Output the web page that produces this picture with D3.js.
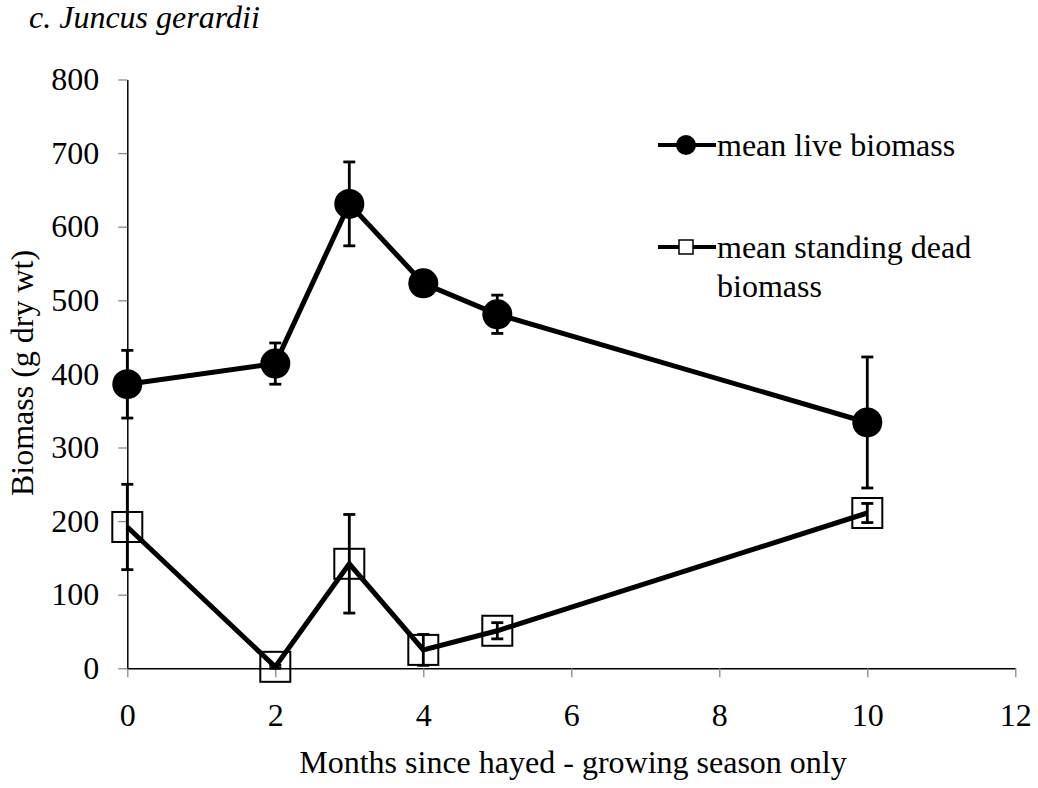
<!DOCTYPE html>
<html>
<head>
<meta charset="utf-8">
<script src="https://cdn.jsdelivr.net/npm/d3@7"></script>
<style>
  body { margin: 0; background: #fff; }
  text { font-family: "Liberation Serif", "Times New Roman", serif; fill: #000; }
</style>
</head>
<body>
<div id="chart"></div>
<script>
// data
var months = [0, 2, 3, 4, 5, 10];
var liveMean = [386, 414, 631, 523, 481, 334];
var liveErr = [46, 28, 57, 8, 26, 89];
var deadMean = [192, 2, 142, 25, 51, 211];
var deadErr = [58, 2, 67, 21, 11, 13];
var xTicks = [0, 2, 4, 6, 8, 10, 12];
var yTicks = [0, 100, 200, 300, 400, 500, 600, 700, 800];

var svgWidth = 1038, svgHeight = 788;
var margin = { top: 79.5, left: 127.3 };
var width = 888, height = 588.8;

var svg = d3.select("#chart").append("svg")
    .attr("width", svgWidth)
    .attr("height", svgHeight);

var chartGroup = svg.append("g")
    .attr("transform", `translate(${margin.left}, ${margin.top})`);

var xScale = d3.scaleLinear().domain([0, 12]).range([0, width]);
var yScale = d3.scaleLinear().domain([0, 800]).range([height, 0]);

// axes
var xAxis = chartGroup.append("g")
    .attr("transform", `translate(0, ${height})`)
    .call(d3.axisBottom(xScale).tickValues(xTicks).tickSizeInner(9).tickSizeOuter(0).tickPadding(26));
var yAxis = chartGroup.append("g")
    .call(d3.axisLeft(yScale).tickValues(yTicks).tickSizeInner(9).tickSizeOuter(0).tickPadding(19));

[xAxis, yAxis].forEach(function (ax) {
    ax.select(".domain").attr("stroke", "#000").attr("stroke-width", 1.5);
    ax.selectAll(".tick line").attr("stroke", "#888").attr("stroke-width", 1.3);
    ax.selectAll(".tick text").style("font-size", "32px").attr("fill", "#000");
});

var liveData = months.map((m, i) => ({ x: m, y: liveMean[i], e: liveErr[i] }));
var deadData = months.map((m, i) => ({ x: m, y: deadMean[i], e: deadErr[i] }));

var line = d3.line().x(d => xScale(d.x)).y(d => yScale(d.y));

// error bars with caps
function drawErrors(data) {
    var g = chartGroup.append("g").attr("stroke", "#000").attr("stroke-width", 2.8);
    data.forEach(function (d) {
        var cx = xScale(d.x), y1 = yScale(d.y + d.e), y2 = yScale(Math.max(0, d.y - d.e));
        g.append("line").attr("x1", cx).attr("x2", cx).attr("y1", y1).attr("y2", y2);
        g.append("line").attr("x1", cx - 6).attr("x2", cx + 6).attr("y1", y1).attr("y2", y1);
        g.append("line").attr("x1", cx - 6).attr("x2", cx + 6).attr("y1", y2).attr("y2", y2);
    });
}

// live biomass
chartGroup.append("path").datum(liveData)
    .attr("d", line).attr("fill", "none").attr("stroke", "#000").attr("stroke-width", 5);
chartGroup.append("g").selectAll("circle").data(liveData).enter().append("circle")
    .attr("cx", d => xScale(d.x)).attr("cy", d => yScale(d.y)).attr("r", 15).attr("fill", "#000");
drawErrors(liveData);

// standing dead biomass
chartGroup.append("path").datum(deadData)
    .attr("d", line).attr("fill", "none").attr("stroke", "#000").attr("stroke-width", 5);
chartGroup.append("g").selectAll("rect").data(deadData).enter().append("rect")
    .attr("x", d => xScale(d.x) - 15).attr("y", d => yScale(d.y) - 15)
    .attr("width", 30).attr("height", 30)
    .attr("fill", "none").attr("stroke", "#000").attr("stroke-width", 2);
drawErrors(deadData);

// legend
var legend = svg.append("g");
legend.append("line").attr("x1", 658).attr("x2", 716).attr("y1", 145).attr("y2", 145)
    .attr("stroke", "#000").attr("stroke-width", 4);
legend.append("circle").attr("cx", 686).attr("cy", 145).attr("r", 10).attr("fill", "#000");
legend.append("text").attr("x", 717).attr("y", 156).style("font-size", "32px").text("mean live biomass");

legend.append("line").attr("x1", 658).attr("x2", 716).attr("y1", 247).attr("y2", 247)
    .attr("stroke", "#000").attr("stroke-width", 4);
legend.append("rect").attr("x", 679).attr("y", 240).attr("width", 14).attr("height", 14)
    .attr("fill", "#fff").attr("stroke", "#000").attr("stroke-width", 1.5);
legend.append("text").attr("x", 717).attr("y", 258).style("font-size", "32px").text("mean standing dead");
legend.append("text").attr("x", 717).attr("y", 297).style("font-size", "32px").text("biomass");

// titles
svg.append("text").attr("x", 29).attr("y", 28)
    .style("font-size", "32px").style("font-style", "italic")
    .text("c. Juncus gerardii");

svg.append("text")
    .attr("transform", "translate(573, 773)")
    .attr("text-anchor", "middle").style("font-size", "32px")
    .text("Months since hayed - growing season only");

svg.append("text")
    .attr("transform", "translate(33, 373) rotate(-90)")
    .attr("text-anchor", "middle").style("font-size", "32px")
    .text("Biomass (g dry wt)");
</script>
</body>
</html>
